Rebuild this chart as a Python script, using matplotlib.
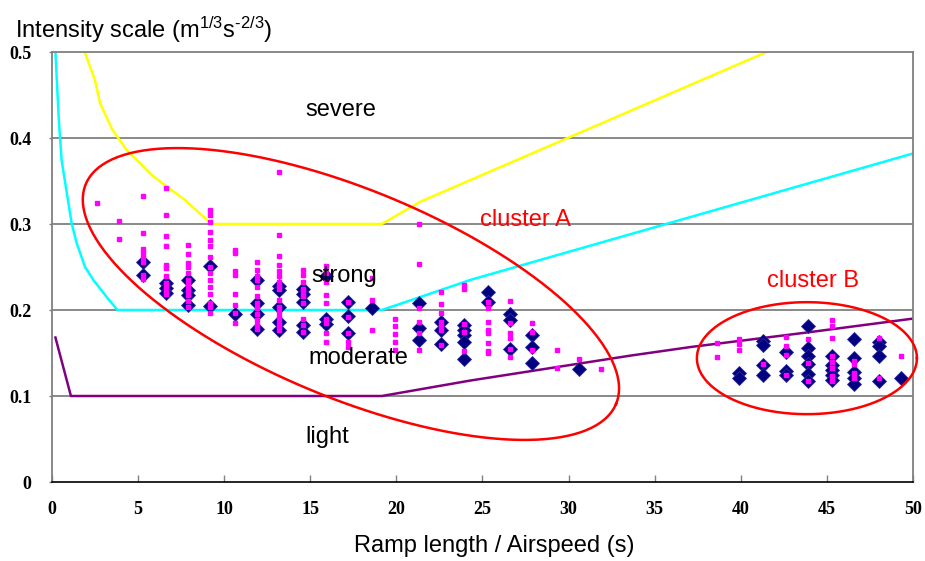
import numpy as np
import matplotlib
matplotlib.use("Agg")
import matplotlib.pyplot as plt

plt.rcParams['font.family'] = ['Liberation Sans', 'DejaVu Sans']
plt.rcParams['mathtext.fontset'] = 'custom'
plt.rcParams['mathtext.rm'] = 'Liberation Sans'
plt.rcParams['mathtext.it'] = 'Liberation Sans:italic'

# column positions (ramp length / airspeed, s)
col_x = [2.6, 3.9, 5.3, 6.6, 7.9, 9.2, 10.6, 11.9, 13.2, 14.6, 15.9, 17.2,
         18.6, 19.9, 21.3, 22.6, 23.9, 25.3, 26.6, 27.9, 29.3, 30.6, 31.9,
         38.6, 39.9, 41.3, 42.6, 43.9, 45.3, 46.6, 48.0, 49.3]

# navy diamonds, one list per column
diamond_y = [
    [], [],
    [0.256, 0.241],
    [0.231, 0.226, 0.220],
    [0.235, 0.223, 0.218, 0.206],
    [0.251, 0.205],
    [0.195],
    [0.235, 0.208, 0.195, 0.178],
    [0.228, 0.223, 0.204, 0.186, 0.177],
    [0.225, 0.219, 0.209, 0.183, 0.174],
    [0.240, 0.190, 0.184],
    [0.209, 0.193, 0.173],
    [0.202],
    [],
    [0.208, 0.179, 0.165],
    [0.186, 0.177, 0.161],
    [0.183, 0.177, 0.171, 0.163, 0.143],
    [0.221, 0.209],
    [0.195, 0.188, 0.155],
    [0.171, 0.157, 0.138],
    [],
    [0.131],
    [],
    [],
    [0.127, 0.121],
    [0.164, 0.159, 0.136, 0.124],
    [0.151, 0.129, 0.124],
    [0.181, 0.156, 0.147, 0.137, 0.126, 0.118],
    [0.147, 0.136, 0.130, 0.124, 0.119],
    [0.166, 0.144, 0.128, 0.121, 0.114],
    [0.163, 0.158, 0.147, 0.117],
    [0.121],
]

# magenta squares, one list per column
square_y = [
    [0.325],
    [0.304, 0.283],
    [0.333, 0.290, 0.271, 0.266, 0.262, 0.256, 0.241, 0.236],
    [0.342, 0.310, 0.286, 0.274, 0.252, 0.249, 0.240, 0.231, 0.227, 0.221, 0.219],
    [0.276, 0.265, 0.255, 0.250, 0.243, 0.235, 0.229, 0.223, 0.217, 0.210, 0.204],
    [0.316, 0.310, 0.302, 0.291, 0.281, 0.274, 0.262, 0.250, 0.243, 0.235,
     0.227, 0.219, 0.208, 0.204, 0.196],
    [0.270, 0.266, 0.245, 0.241, 0.219, 0.206, 0.196, 0.185],
    [0.256, 0.247, 0.239, 0.235, 0.227, 0.216, 0.208, 0.202, 0.195, 0.188, 0.183, 0.178],
    [0.360, 0.287, 0.263, 0.252, 0.245, 0.239, 0.233, 0.228, 0.224, 0.212,
     0.204, 0.198, 0.192, 0.186, 0.181, 0.177],
    [0.247, 0.241, 0.233, 0.225, 0.220, 0.216, 0.208, 0.190, 0.183, 0.174],
    [0.251, 0.243, 0.232, 0.217, 0.208, 0.190, 0.185, 0.173, 0.163],
    [0.209, 0.192, 0.173, 0.163, 0.157],
    [0.237, 0.212, 0.177],
    [0.190, 0.181, 0.172, 0.163, 0.154],
    [0.300, 0.254, 0.202, 0.186, 0.173, 0.153],
    [0.221, 0.207, 0.196, 0.186, 0.181, 0.177, 0.159],
    [0.229, 0.224, 0.184, 0.175, 0.152],
    [0.209, 0.202, 0.186, 0.177, 0.173, 0.162, 0.152, 0.150],
    [0.211, 0.185, 0.173, 0.168, 0.155, 0.145],
    [0.185, 0.175, 0.153],
    [0.153, 0.133],
    [0.143],
    [0.131],
    [0.162, 0.145],
    [0.166, 0.161, 0.153],
    [0.137],
    [0.169, 0.158, 0.148, 0.124],
    [0.166, 0.138, 0.118],
    [0.188, 0.181, 0.167, 0.146, 0.140, 0.133, 0.123, 0.117],
    [0.141, 0.137, 0.127, 0.121],
    [0.168, 0.121],
    [0.147],
]

# category boundaries
yellow_x = [1.9, 2.5, 2.8, 3.5, 4.34, 5.79, 6.7, 7.72, 8.98, 9.3, 19.15, 21.4, 41.5]
yellow_y = [0.5, 0.467, 0.44, 0.41, 0.386, 0.357, 0.343, 0.328, 0.305, 0.3, 0.3, 0.326, 0.5]
cyan_x = [0.2, 0.4, 0.56, 1.14, 1.43, 1.92, 2.4, 3.18, 3.8, 19.15, 20.2, 24.3, 50]
cyan_y = [0.5, 0.42, 0.374, 0.301, 0.278, 0.25, 0.235, 0.215, 0.2, 0.2, 0.207, 0.235, 0.382]
purple_x = [0.2, 1.1, 19.15, 24.3, 33.6, 37.1, 43.9, 50]
purple_y = [0.168, 0.1, 0.1, 0.118, 0.147, 0.157, 0.174, 0.190]

zone_names = ['severe', 'strong', 'moderate', 'light']
zone_x = [16.8, 17.0, 17.8, 16.0]
zone_y = [0.433, 0.240, 0.144, 0.052]

cluster_names = ['cluster A', 'cluster B']
cluster_x = [27.5, 44.2]
cluster_y = [0.305, 0.234]

x_ticks = [0, 5, 10, 15, 20, 25, 30, 35, 40, 45, 50]
y_ticks = [0, 0.1, 0.2, 0.3, 0.4, 0.5]
y_tick_labels = ['0', '0.1', '0.2', '0.3', '0.4', '0.5']

fig = plt.figure(figsize=(9.25, 5.61), dpi=100)
ax = fig.add_axes([0.0562, 0.1408, 0.9308, 0.7665])
ax.set_xlim(0, 50)
ax.set_ylim(0, 0.5)

for yv in y_ticks[1:-1]:
    ax.axhline(yv, color='#808080', lw=1.3, zorder=1)

for s in ['left', 'top', 'right']:
    ax.spines[s].set_color('#808080')
    ax.spines[s].set_linewidth(1.3)
ax.spines['bottom'].set_color('black')
ax.spines['bottom'].set_linewidth(1.2)

ax.set_xticks(x_ticks)
ax.set_yticks(y_ticks)
ax.set_yticklabels(y_tick_labels)
ax.tick_params(axis='x', direction='in', length=5, width=1, color='#808080', pad=14)
ax.tick_params(axis='y', direction='out', length=2, width=1, color='#808080', pad=13)
for lab in ax.get_xticklabels() + ax.get_yticklabels():
    lab.set_fontfamily('Liberation Serif')
    lab.set_fontweight('bold')
    lab.set_fontsize(13)

ax.plot(yellow_x, yellow_y, color='#FFFF00', lw=1.8, zorder=2)
ax.plot(cyan_x, cyan_y, color='#00FFFF', lw=1.8, zorder=2)
ax.plot(purple_x, purple_y, color='#800080', lw=1.8, zorder=2)

dx, dy = [], []
for xv, ys in zip(col_x, diamond_y):
    dx += [xv] * len(ys)
    dy += ys
sx, sy = [], []
for xv, ys in zip(col_x, square_y):
    sx += [xv] * len(ys)
    sy += ys

ax.plot(dx, dy, 'D', color='#000080', mec='#2a2a9a', mew=0.6, ms=7, ls='none', zorder=3)
ax.plot(sx, sy, 's', color='#FF00FF', mec='#FF00FF', ms=3.4, ls='none', zorder=4)

for name, xv, yv in zip(zone_names, zone_x, zone_y):
    ax.text(xv, yv, name, fontsize=17, ha='center', va='center', zorder=6)
for name, xv, yv in zip(cluster_names, cluster_x, cluster_y):
    ax.text(xv, yv, name, fontsize=17, color='#FF0000', ha='center', va='center', zorder=6)


def draw_ellipse(cx, cy, a, b, ang):
    # a, b are semi-axes in pixels, so the ellipse keeps its on-screen shape
    t = np.linspace(0, 2 * np.pi, 300)
    th = np.radians(ang)
    ex = a * np.cos(t) * np.cos(th) - b * np.sin(t) * np.sin(th)
    ey = a * np.cos(t) * np.sin(th) + b * np.sin(t) * np.cos(th)
    c = ax.transData.transform((cx, cy))
    pts = ax.transData.inverted().transform(np.column_stack([c[0] + ex, c[1] + ey]))
    ax.plot(pts[:, 0], pts[:, 1], color='#FF0000', lw=1.8, zorder=5, clip_on=False)


draw_ellipse(17.36, 0.2186, 287, 104, -22.5)
draw_ellipse(43.84, 0.144, 110, 56, 0)

fig.text(15 / 925, 1 - 38 / 561, r'Intensity scale (m$^{1/3}$s$^{\text{-}2/3}$)',
         fontsize=17, ha='left', va='baseline')
fig.text(494 / 925, 1 - 546 / 561, 'Ramp length / Airspeed (s)',
         fontsize=17, ha='center', va='center')

fig.savefig('out.png', dpi=100)
